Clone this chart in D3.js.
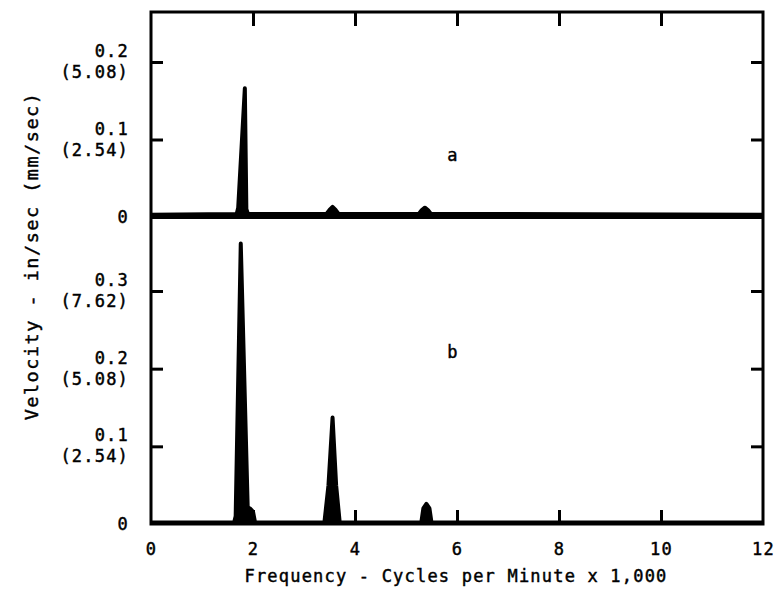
<!DOCTYPE html>
<html>
<head>
<meta charset="utf-8">
<script src="https://cdn.jsdelivr.net/npm/d3@7/dist/d3.min.js"></script>
<style>
  body { margin: 0; background: #fff; }
  text { font-family: "DejaVu Sans Mono", monospace; font-size: 17px; fill: #000; letter-spacing: 1.2px; stroke: #000; stroke-width: 0.45px; }
</style>
</head>
<body>
<script>
// frequency ticks (x 1,000 cpm)
var freqTicks = [0, 2, 4, 6, 8, 10, 12];
var innerTicks = [2, 4, 6, 8, 10];
// panel a: velocity in/sec and mm/sec labels
var aTicks = [0.1, 0.2];
var aMetric = ["(2.54)", "(5.08)"];
// panel b
var bTicks = [0.1, 0.2, 0.3];
var bMetric = ["(2.54)", "(5.08)", "(7.62)"];

// spectrum a: [freq, in/sec]
var spectrumA = [
    [0, 0.003], [1.68, 0.004], [1.71, 0.012], [1.84, 0.166], [1.87, 0.01],
    [1.9, 0.004], [3.44, 0.004], [3.5, 0.009], [3.56, 0.013], [3.62, 0.009],
    [3.68, 0.004], [5.25, 0.004], [5.31, 0.009], [5.37, 0.012], [5.43, 0.009],
    [5.49, 0.004], [12, 0.003]
];
// spectrum b
var spectrumB = [
    [0, 0.002], [1.63, 0.002], [1.66, 0.01], [1.76, 0.361], [1.9, 0.012],
    [1.94, 0.02], [2.0, 0.016], [2.04, 0.002], [3.4, 0.002], [3.48, 0.05],
    [3.56, 0.137], [3.63, 0.05], [3.7, 0.002], [5.3, 0.002], [5.34, 0.02],
    [5.4, 0.026], [5.46, 0.02], [5.5, 0.002], [12, 0.002]
];

const w = 781,
    h = 600;
const padL = 151, padR = 763, padT = 12, mid = 217, padB = 524;

const svg = d3.select("body")
    .append("svg")
    .attr("width", w)
    .attr("height", h);

var xScale = d3.scaleLinear().domain([0, 12]).range([padL, padR]);
var yA = d3.scaleLinear().domain([0, 0.2]).range([mid, 62]);
var yB = d3.scaleLinear().domain([0, 0.3]).range([padB, 291]);

// curves, filled under the peaks
var drawSpectrum = function (data, y) {
    svg.append("path")
        .datum(data)
        .attr("fill", "#000")
        .attr("d", d3.area().x((d) => xScale(d[0])).y0(y(0)).y1((d) => y(d[1])));
    svg.append("path")
        .datum(data)
        .attr("fill", "none")
        .attr("stroke", "#000")
        .attr("stroke-width", 4)
        .attr("stroke-linejoin", "round")
        .attr("d", d3.line().x((d) => xScale(d[0])).y((d) => y(d[1])));
}
drawSpectrum(spectrumA, yA);
drawSpectrum(spectrumB, yB);

// inside ticks
var tickAxis = function (axis, tx, ty) {
    var g = svg.append("g")
        .attr("transform", "translate(" + tx + "," + ty + ")")
        .call(axis);
    g.select(".domain").remove();
    g.selectAll("line").attr("stroke", "#000").attr("stroke-width", 3);
}
tickAxis(d3.axisBottom(xScale).tickValues(innerTicks).tickSize(-14).tickFormat(""), 0, padB);
tickAxis(d3.axisTop(xScale).tickValues(innerTicks).tickSize(-14).tickFormat(""), 0, padT);
tickAxis(d3.axisLeft(yA).tickValues(aTicks).tickSize(-12).tickFormat(""), padL, 0);
tickAxis(d3.axisRight(yA).tickValues(aTicks).tickSize(-12).tickFormat(""), padR, 0);
tickAxis(d3.axisLeft(yB).tickValues(bTicks).tickSize(-12).tickFormat(""), padL, 0);
tickAxis(d3.axisRight(yB).tickValues(bTicks).tickSize(-12).tickFormat(""), padR, 0);

// frame and divider
svg.append("rect")
    .attr("x", padL).attr("y", padT)
    .attr("width", padR - padL).attr("height", padB - padT)
    .attr("fill", "none").attr("stroke", "#000").attr("stroke-width", 3);
svg.append("line")
    .attr("x1", padL).attr("x2", padR).attr("y1", mid).attr("y2", mid)
    .attr("stroke", "#000").attr("stroke-width", 4);

// x tick labels
var xg = svg.append("g")
    .attr("transform", "translate(0," + padB + ")")
    .call(d3.axisBottom(xScale).tickValues(freqTicks).tickSize(0).tickPadding(19));
xg.select(".domain").remove();
xg.attr("font-size", null).attr("font-family", null);

// y tick labels, two lines each
var yLabels = function (ticks, metric, y) {
    ticks.forEach(function (t, i) {
        var tx = svg.append("text")
            .attr("text-anchor", "end")
            .attr("x", 129)
            .attr("y", y(t) - 5);
        tx.append("tspan").attr("x", 129).text(t.toFixed(1));
        tx.append("tspan").attr("x", 129).attr("dy", 21).text(metric[i]);
    });
    svg.append("text")
        .attr("text-anchor", "end")
        .attr("x", 129)
        .attr("y", y(0) + 6)
        .text("0");
}
yLabels(aTicks, aMetric, yA);
yLabels(bTicks, bMetric, yB);

// panel letters
svg.append("text").attr("x", 453).attr("y", 161).attr("text-anchor", "middle").text("a");
svg.append("text").attr("x", 453).attr("y", 358).attr("text-anchor", "middle").text("b");

// axis titles
svg.append("text")
    .attr("text-anchor", "middle")
    .attr("x", 456).attr("y", 582)
    .text("Frequency - Cycles per Minute x 1,000");
svg.append("text")
    .attr("text-anchor", "middle")
    .attr("transform", "translate(38,256) rotate(-90)")
    .style("font-size", "18.5px")
    .style("letter-spacing", "1.5px")
    .text("Velocity - in/sec (mm/sec)");
</script>
</body>
</html>
